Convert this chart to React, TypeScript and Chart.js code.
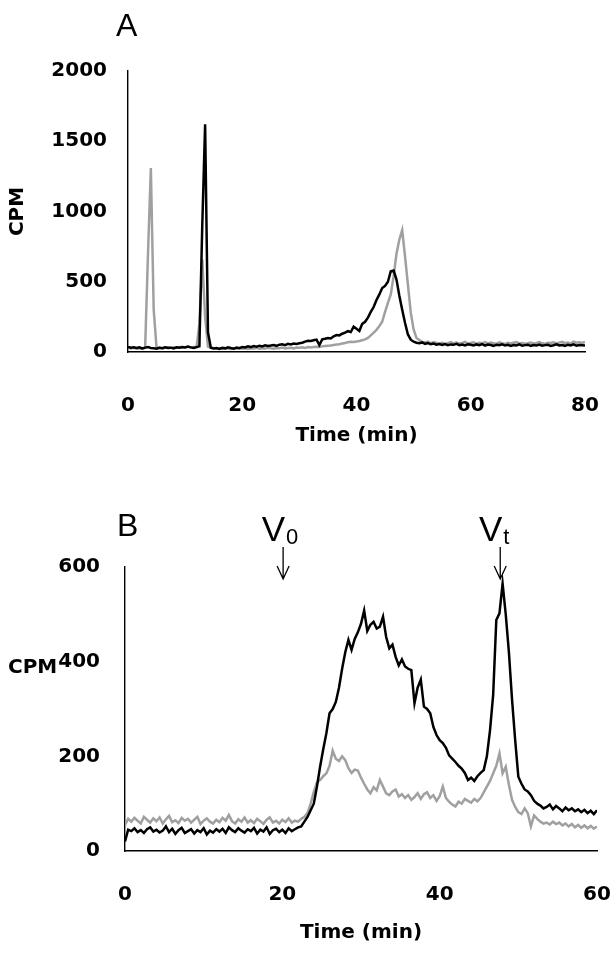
import React, { useEffect, useRef } from 'react';
import { Chart, registerables } from 'chart.js';

Chart.register(...registerables);

// ---- Panel A: elution profile, 0-80 min, one fraction every 0.5 min ----
const TIME_STEP_A = 0.5;
const cpmBlackA = [
  36, 30, 34, 28, 33, 26, 31, 35, 29, 27,
  24, 30, 27, 33, 29, 31, 26, 34, 30, 36,
  32, 38, 33, 29, 35, 40, 900, 1620, 140, 30,
  25, 28, 22, 30, 26, 33, 28, 24, 31, 27,
  36, 32, 40, 35, 42, 38, 45, 40, 47, 43,
  46, 50, 44, 52, 55, 49, 58, 54, 60, 57,
  62, 66, 74, 80, 78, 84, 88, 50, 90, 94,
  100, 96, 112, 121, 118, 130, 138, 148, 142, 180,
  165, 150, 200, 215, 245, 285, 320, 370, 410, 455,
  470, 500, 575, 580, 515, 400, 300, 206, 125, 88,
  73, 66, 62, 68, 58, 64, 55, 60, 52, 57,
  50, 56, 48, 54, 51, 58, 49, 53, 47, 55,
  52, 47, 54, 49, 56, 46, 53, 50, 44, 52,
  48, 55, 46, 51, 43, 50, 47, 54, 45, 49,
  52, 44, 50, 47, 53, 45, 49, 51, 43, 48,
  54, 46, 50, 44, 52, 47, 55, 45, 50, 48,
  46,
];
const cpmGrayA = [
  28, 25, 30, 24, 27, 22, 30, 700, 1310, 300,
  28, 32, 26, 30, 34, 29, 33, 31, 36, 30,
  34, 37, 32, 36, 35, 200, 660, 250, 38, 30,
  26, 24, 28, 22, 27, 25, 21, 26, 23, 28,
  24, 27, 22, 26, 25, 29, 23, 27, 25, 30,
  26, 24, 29, 27, 31, 25, 28, 30, 26, 32,
  30, 33, 29, 35, 32, 36, 38, 35, 40, 42,
  44, 46, 50, 53, 55, 60, 64, 70, 73, 72,
  75, 78, 84, 90, 100, 118, 138, 158, 185, 215,
  285, 350, 410, 540, 700, 800, 868, 678, 480, 280,
  160, 100, 85, 72, 68, 74, 62, 70, 65, 60,
  66, 58, 63, 70, 61, 67, 59, 64, 72, 60,
  65, 69, 58, 66, 62, 71, 60, 67, 63, 58,
  68, 62, 57, 65, 60, 66, 70, 61, 64, 59,
  63, 68, 60, 65, 71, 62, 58, 66, 64, 69,
  61, 67, 72, 63, 68, 60, 74, 66, 70, 65,
  72,
];
const xTicksA = [0, 20, 40, 60, 80];
const yTicksA = [0, 500, 1000, 1500, 2000];

// ---- Panel B: elution profile, 0-60 min, one fraction every 0.4 min ----
const TIME_STEP_B = 0.4;
const cpmBlackB = [
  20, 45, 42, 48, 40, 44, 38, 46, 50, 41,
  45, 39, 43, 52, 40, 47, 36, 44, 49, 38,
  42, 46, 37, 44, 40, 48, 35, 43, 39, 46,
  41, 47, 38, 50, 44, 40, 48, 43, 39, 46,
  42, 49, 37, 45, 41, 50, 36, 44, 47, 40,
  45, 38, 48, 42, 46, 50, 52, 62, 72, 86,
  100, 136, 178, 215, 249, 291, 300, 315, 345, 385,
  420, 446, 425, 448, 462, 480, 508, 465, 478, 484,
  470, 474, 495, 452, 428, 436, 410, 392, 405, 390,
  385, 382, 312, 345, 362, 305, 300, 291, 262, 245,
  234, 228, 218, 202, 195, 188, 180, 174, 165, 150,
  155, 148, 158, 165, 171, 200, 255, 330, 488, 502,
  565, 500, 420, 320, 234, 157, 142, 130, 126, 118,
  106, 100, 96, 90, 93, 98, 88, 95, 90, 84,
  92, 86, 90, 84, 88, 82, 87, 80, 85, 78,
  86,
];
const cpmGrayB = [
  55, 68, 62, 70, 64, 58, 72, 66, 60, 69,
  63, 71, 58, 67, 74, 61, 65, 59, 70, 64,
  68, 60, 66, 72, 57, 64, 69, 62, 58, 66,
  61, 70, 64, 76, 63, 58, 67, 62, 71, 60,
  65, 59, 68, 63, 57, 66, 71, 60, 64, 58,
  66, 61, 69, 60, 64, 62, 68, 72, 80, 100,
  125, 145, 150, 158, 164, 180, 212, 195, 190, 200,
  192, 175, 165, 172, 170, 155, 142, 130, 122, 135,
  128, 150, 136, 122, 118, 126, 130, 115, 120, 112,
  118, 108, 114, 122, 110, 120, 124, 112, 118, 106,
  116, 136, 112, 104, 98, 94, 104, 100, 110, 106,
  102, 110, 105, 112, 124, 136, 148, 164, 180, 206,
  164, 178, 140, 108, 93, 82, 78, 90, 80, 52,
  75, 68, 62, 58, 60, 56, 62, 57, 60, 54,
  58, 52, 57, 50, 55, 49, 54, 48, 53, 47,
  52,
];
const xTicksB = [0, 20, 40, 60];
const yTicksB = [0, 200, 400, 600];

// Void volume and total volume markers (min)
const V0_TIME = 20.1;
const VT_TIME = 47.7;

const BOLD = { family: '"DejaVu Sans", sans-serif', size: 20, weight: 'bold' as const };
const BLACK = '#000000';
const GRAY = '#a0a0a0';

const toPoints = (values: number[], step: number) =>
  values.map((v, i) => ({ x: Math.round(i * step * 100) / 100, y: v }));

const makeDatasets = (black: number[], gray: number[], step: number) => [
  { data: toPoints(black, step), borderColor: BLACK, borderWidth: 2.5, pointRadius: 0, tension: 0, order: 0 },
  { data: toPoints(gray, step), borderColor: GRAY, borderWidth: 2.5, pointRadius: 0, tension: 0, order: 1 },
];

// invisible tick marks are used as the gap between axis line and labels
const gridWithGap = (gap: number) => ({
  display: true,
  drawOnChartArea: false,
  drawTicks: true,
  tickLength: gap,
  color: 'rgba(0,0,0,0)',
});

const border = { display: true, color: BLACK, width: 1.4 };
const plainLabel = (v: any) => String(v);

const panelAPlugin = {
  id: 'panelALabels',
  afterDraw(chart: any) {
    const { ctx } = chart;
    ctx.save();
    ctx.fillStyle = BLACK;
    ctx.textBaseline = 'alphabetic';
    ctx.textAlign = 'left';
    ctx.font = '32px "Liberation Sans", Arial, sans-serif';
    ctx.fillText('A', 116, 36);
    ctx.restore();
  },
};

const panelBPlugin = {
  id: 'panelBLabels',
  afterDraw(chart: any) {
    const { ctx } = chart;
    const xs = chart.scales.x;
    ctx.save();
    ctx.fillStyle = BLACK;
    ctx.strokeStyle = BLACK;
    ctx.textBaseline = 'alphabetic';
    ctx.textAlign = 'left';
    ctx.font = '32px "Liberation Sans", Arial, sans-serif';
    ctx.fillText('B', 117, 66);

    ctx.font = 'bold 20px "DejaVu Sans", sans-serif';
    ctx.textBaseline = 'middle';
    ctx.fillText('CPM', 8, 198);

    const markers = [
      { t: V0_TIME, sub: '0' },
      { t: VT_TIME, sub: 't' },
    ];
    markers.forEach((m) => {
      const px = xs.getPixelForValue(m.t);
      ctx.textBaseline = 'alphabetic';
      ctx.textAlign = 'right';
      ctx.font = '35px "Liberation Sans", Arial, sans-serif';
      ctx.fillText('V', px + 2, 71);
      ctx.textAlign = 'left';
      ctx.font = '22px "Liberation Sans", Arial, sans-serif';
      ctx.fillText(m.sub, px + 3, 74);
      const tipY = 109;
      ctx.lineWidth = 1.3;
      ctx.beginPath();
      ctx.moveTo(px, 77);
      ctx.lineTo(px, tipY);
      ctx.moveTo(px - 6, tipY - 13);
      ctx.lineTo(px, tipY);
      ctx.lineTo(px + 6, tipY - 13);
      ctx.stroke();
    });
    ctx.restore();
  },
};

export default function App() {
  const refA = useRef<HTMLCanvasElement>(null);
  const refB = useRef<HTMLCanvasElement>(null);

  useEffect(() => {
    const chartA = new Chart(refA.current as HTMLCanvasElement, {
      type: 'line',
      data: { datasets: makeDatasets(cpmBlackA, cpmGrayA, TIME_STEP_A) as any },
      options: {
        animation: false,
        responsive: false,
        devicePixelRatio: 1,
        events: [],
        layout: { padding: { left: 0, top: 71, right: 30, bottom: 22 } },
        plugins: { legend: { display: false }, tooltip: { enabled: false }, title: { display: false } },
        scales: {
          x: {
            type: 'linear',
            min: xTicksA[0],
            max: xTicksA[xTicksA.length - 1],
            afterBuildTicks: (s: any) => { s.ticks = xTicksA.map((v) => ({ value: v })); },
            afterFit: (s: any) => { s.height = 96; },
            grid: gridWithGap(42),
            border,
            ticks: { color: BLACK, font: BOLD, padding: 0, maxRotation: 0, autoSkip: false, callback: plainLabel },
            title: { display: true, text: 'Time (min)', color: BLACK, font: BOLD, padding: { top: 0, bottom: 0 } },
          },
          y: {
            type: 'linear',
            min: yTicksA[0],
            max: yTicksA[yTicksA.length - 1],
            afterBuildTicks: (s: any) => { s.ticks = yTicksA.map((v) => ({ value: v })); },
            afterFit: (s: any) => { s.width = 128; },
            grid: gridWithGap(21),
            border,
            ticks: { color: BLACK, font: BOLD, padding: 0, autoSkip: false, callback: plainLabel },
            title: { display: true, text: 'CPM', color: BLACK, font: BOLD, padding: { top: 6, bottom: 0 } },
          },
        },
      } as any,
      plugins: [panelAPlugin],
    });

    const chartB = new Chart(refB.current as HTMLCanvasElement, {
      type: 'line',
      data: { datasets: makeDatasets(cpmBlackB, cpmGrayB, TIME_STEP_B) as any },
      options: {
        animation: false,
        responsive: false,
        devicePixelRatio: 1,
        events: [],
        layout: { padding: { left: 0, top: 97, right: 18, bottom: 9 } },
        plugins: { legend: { display: false }, tooltip: { enabled: false }, title: { display: false } },
        scales: {
          x: {
            type: 'linear',
            min: xTicksB[0],
            max: xTicksB[xTicksB.length - 1],
            afterBuildTicks: (s: any) => { s.ticks = xTicksB.map((v) => ({ value: v })); },
            afterFit: (s: any) => { s.height = 94; },
            grid: gridWithGap(32),
            border,
            ticks: { color: BLACK, font: BOLD, padding: 0, maxRotation: 0, autoSkip: false, callback: plainLabel },
            title: { display: true, text: 'Time (min)', color: BLACK, font: BOLD, padding: { top: 0, bottom: 0 } },
          },
          y: {
            type: 'linear',
            min: yTicksB[0],
            max: yTicksB[yTicksB.length - 1],
            afterBuildTicks: (s: any) => { s.ticks = yTicksB.map((v) => ({ value: v })); },
            afterFit: (s: any) => { s.width = 125; },
            grid: gridWithGap(25),
            border,
            ticks: { color: BLACK, font: BOLD, padding: 0, autoSkip: false, callback: plainLabel },
            title: { display: false },
          },
        },
      } as any,
      plugins: [panelBPlugin],
    });

    return () => {
      chartA.destroy();
      chartB.destroy();
    };
  }, []);

  return (
    <div style={{ position: 'absolute', left: 0, top: 0, width: 615, height: 954, background: '#ffffff' }}>
      <canvas ref={refA} width={615} height={470} style={{ position: 'absolute', left: 0, top: 0, width: 615, height: 470 }} />
      <canvas ref={refB} width={615} height={484} style={{ position: 'absolute', left: 0, top: 470, width: 615, height: 484 }} />
    </div>
  );
}
